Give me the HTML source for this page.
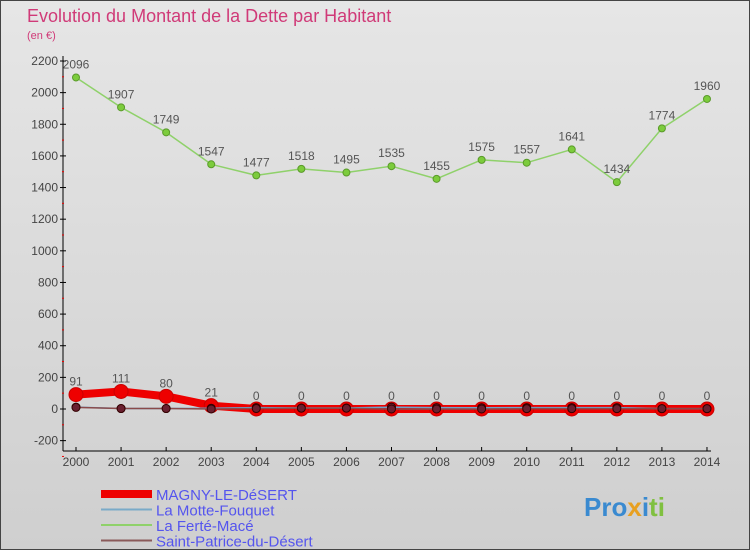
<!DOCTYPE html>
<html><head><meta charset="utf-8"><style>
body{margin:0;width:750px;height:550px;overflow:hidden;font-family:"Liberation Sans",sans-serif}
#wrap{position:relative;width:748px;height:548px;border:1px solid #444;background:linear-gradient(#e6e6e6,#cfcfcf)}
</style></head><body>
<div id="wrap">
<svg id="c" width="748" height="548"></svg>
</div>
<script>
const years=[2000,2001,2002,2003,2004,2005,2006,2007,2008,2009,2010,2011,2012,2013,2014];
const magny=[91,111,80,21,0,0,0,0,0,0,0,0,0,0,0];
const motte=[12,3,3,5,9,6,6,12,9,8,9,9,9,2,2];
const ferte=[2096,1907,1749,1547,1477,1518,1495,1535,1455,1575,1557,1641,1434,1774,1960];
const patrice=[10,3,3,0,3,5,5,0,0,0,2,2,2,2,2];
const yTicks=[-200,0,200,400,600,800,1000,1200,1400,1600,1800,2000,2200];
const NS="http://www.w3.org/2000/svg";
const svg=document.getElementById('c');
const X=i=>75+i*45.07;
const Y=v=>408-v*(348/2200);
function el(t,a,p){const e=document.createElementNS(NS,t);for(const k in a)e.setAttribute(k,a[k]);(p||svg).appendChild(e);return e;}
let t=el('text',{x:26,y:21,fill:'#d03a78','font-size':18});t.textContent='Evolution du Montant de la Dette par Habitant';

t=el('text',{x:26,y:38,fill:'#d03a78','font-size':11});t.textContent='(en €)';

let a=el('line',{x1:62,y1:55,x2:62,y2:450,stroke:'#000'});
a=el('line',{x1:62,y1:450,x2:710,y2:450,stroke:'#000'});
yTicks.forEach(v=>{const y=Y(v);el('line',{x1:59,y1:y,x2:65,y2:y,stroke:'#000'});
 el('line',{x1:61,y1:y+15.8,x2:63,y2:y+15.8,stroke:'#e00'});
 const tx=el('text',{x:57,y:y+4,'text-anchor':'end','font-size':12,fill:'#444'});tx.textContent=v;
 });
years.forEach((yr,i)=>{el('line',{x1:X(i),y1:446,x2:X(i),y2:450,stroke:'#000'});
 const tx=el('text',{x:X(i),y:465,'text-anchor':'middle','font-size':12,fill:'#444'});tx.textContent=yr;
 });
function series(d,col,w,r,fill,stroke,name,labels){
 const p=el('polyline',{points:d.map((v,i)=>X(i)+','+Y(v)).join(' '),fill:'none',stroke:col,'stroke-width':w,'stroke-linejoin':'round'});
 
 d.forEach((v,i)=>{const c=el('circle',{cx:X(i),cy:Y(v),r:r,fill:fill,stroke:stroke,'stroke-width':1});
  
  if(labels){const tx=el('text',{x:X(i),y:Y(v)-9,'text-anchor':'middle','font-size':12,fill:'#555'});tx.textContent=v;
  }});
}
series(ferte,'#8fd16a',1.5,3.5,'#7ccc3c','#5a9a2a','ferte-mace',true);
series(magny,'#ee0000',8,7,'#ee0000','#c00','magny',true);
series(motte,'#6fa0c8',1.5,4,'#6a2030','#300','motte-fouquet',false);
series(patrice,'#8a4a4a',1.5,4,'#6a2030','#300','saint-patrice',false);
const leg=[['MAGNY-LE-DéSERT','#ee0000',8],['La Motte-Fouquet','#7aaac8',2],['La Ferté-Macé','#8fd16a',2],['Saint-Patrice-du-Désert','#8a5a5a',2]];
leg.forEach((l,i)=>{const y=493+i*15.5;
 const ln=el('line',{x1:100,y1:y,x2:151,y2:y,stroke:l[1],'stroke-width':l[2]});
 
 const tx=el('text',{x:155,y:y+6,'font-size':15,fill:'#5555ee'});tx.textContent=l[0];
 });
t=el('text',{x:583,y:515,'font-size':26,'font-weight':'bold',fill:'#3a8ad0'});
t.innerHTML='Pro<tspan fill="#e8a020">x</tspan><tspan fill="#3a8ad0">i</tspan><tspan fill="#80c040">ti</tspan>';

</script>
</body></html>
